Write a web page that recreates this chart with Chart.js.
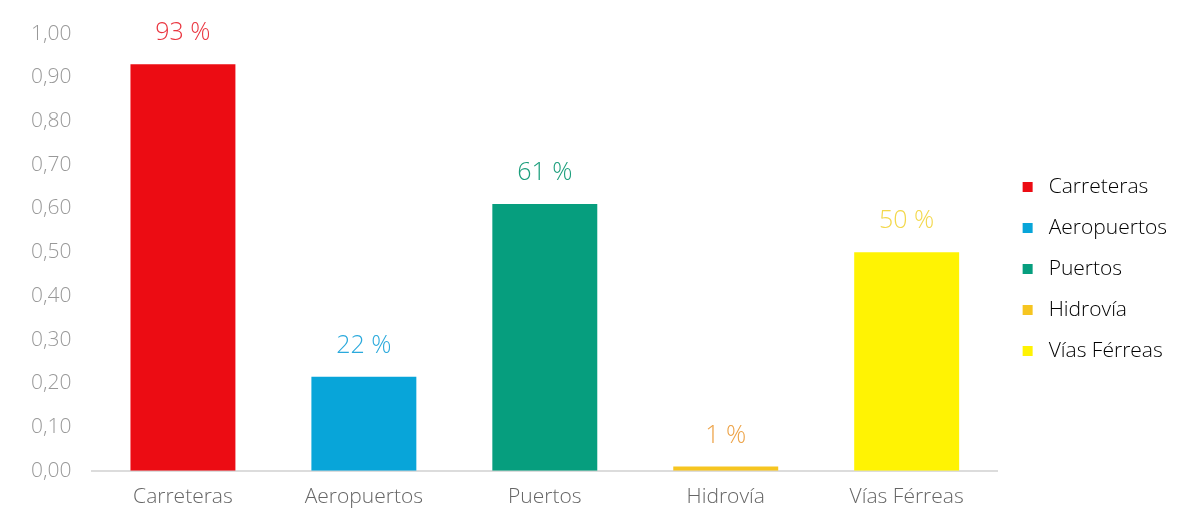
<!DOCTYPE html>
<html>
<head>
<meta charset="utf-8">
<script src="https://cdn.jsdelivr.net/npm/chart.js@4/dist/chart.umd.min.js"></script>
<style>
  html, body { margin: 0; padding: 0; background: #fff; }
  #wrap { width: 1202px; height: 509px; }
</style>
</head>
<body>
<div id="wrap"><canvas id="chart" width="1202" height="509"></canvas></div>
<script>
const categories = ["Carreteras", "Aeropuertos", "Puertos", "Hidrovía", "Vías Férreas"];
const values = [0.93, 0.215, 0.61, 0.01, 0.50];
const pctLabels = ["93 %", "22 %", "61 %", "1 %", "50 %"];
const barColors = ["#ec0c13", "#08a5d9", "#069e7e", "#f6c520", "#fff303"];
const labelColors = ["#ea3640", "#2aa9dc", "#1b9e7c", "#eda347", "#f3d84c"];

const fontFamily = "'Open Sans', Lato, sans-serif";

// draws the "93 %" labels above each bar
const valueLabels = {
  id: "valueLabels",
  afterDatasetsDraw(chart) {
    const ctx = chart.ctx;
    const meta = chart.getDatasetMeta(0);
    ctx.save();
    ctx.font = "300 25px " + fontFamily;
    ctx.textAlign = "center";
    ctx.textBaseline = "middle";
    meta.data.forEach((bar, i) => {
      ctx.fillStyle = labelColors[i];
      ctx.fillText(pctLabels[i], bar.x, bar.y - 31);
    });
    ctx.restore();
  }
};

new Chart(document.getElementById("chart"), {
  type: "bar",
  data: {
    labels: categories,
    datasets: [{
      data: values,
      backgroundColor: barColors,
      borderWidth: 0,
      categoryPercentage: 0.58,
      barPercentage: 1.0
    }]
  },
  options: {
    responsive: false,
    animation: false,
    layout: { padding: { top: 14, right: 25, left: 10, bottom: -15 } },
    plugins: {
      tooltip: { enabled: false },
      legend: {
        position: "right",
        labels: {
          usePointStyle: true,
          pointStyle: "rect",
          boxWidth: 30,
          boxHeight: 10,
          padding: 20,
          color: "#555",
          font: { family: fontFamily, size: 21, weight: 300 },
          generateLabels(chart) {
            return categories.map((c, i) => ({
              text: c,
              fillStyle: barColors[i],
              strokeStyle: barColors[i],
              lineWidth: 0,
              pointStyle: "rect",
              index: i
            }));
          }
        }
      }
    },
    scales: {
      x: {
        grid: { display: false, drawTicks: false },
        border: { color: "#dcdcdc", width: 2 },
        ticks: {
          color: "#666",
          padding: 14,
          font: { family: fontFamily, size: 21, weight: 300 }
        }
      },
      y: {
        min: 0,
        max: 1,
        grid: { display: false, drawTicks: false },
        border: { display: false },
        ticks: {
          stepSize: 0.1,
          color: "#999",
          padding: 21,
          font: { family: fontFamily, size: 21, weight: 300 },
          callback: v => v.toFixed(2).replace(".", ",")
        }
      }
    }
  },
  plugins: [valueLabels]
});
</script>
</body>
</html>
